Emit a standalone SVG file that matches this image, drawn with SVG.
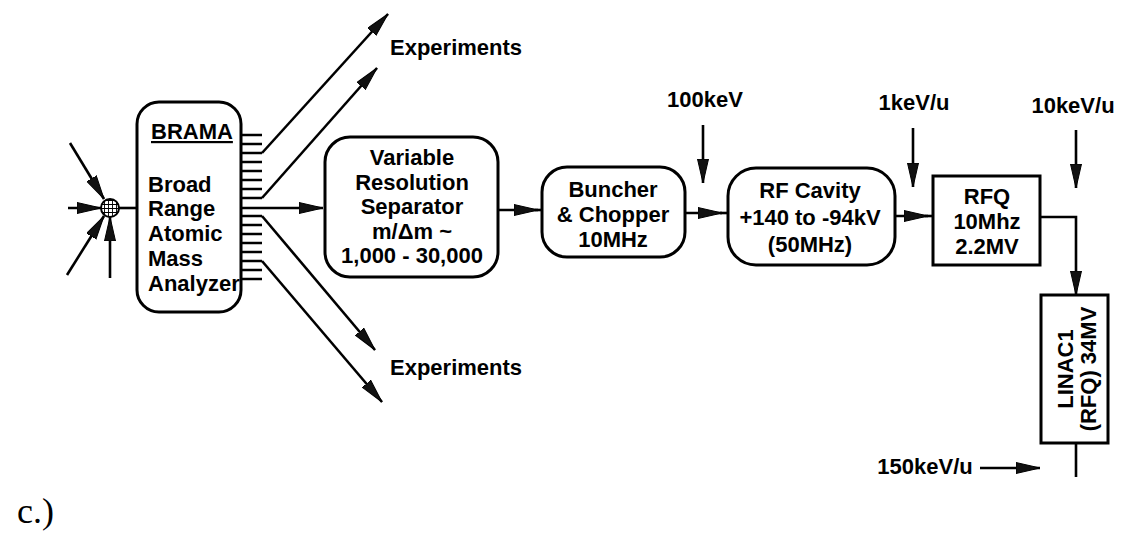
<svg xmlns="http://www.w3.org/2000/svg" width="1121" height="533" viewBox="0 0 1121 533">
<defs>
<style>
.box{fill:#fff;stroke:#000;stroke-width:3}
.ln{fill:none;stroke:#000;stroke-width:2.6}
.tk{fill:none;stroke:#000;stroke-width:2.5}
.t{font-family:"Liberation Sans",Arial,sans-serif;font-weight:bold;font-size:22px;fill:#000;text-anchor:middle}
.tl{font-family:"Liberation Sans",Arial,sans-serif;font-weight:bold;font-size:22px;fill:#000}
.ex{font-family:"Liberation Sans",Arial,sans-serif;font-weight:bold;font-size:22px;fill:#000}
.arr{marker-end:url(#ah)}
</style>
<marker id="ah" markerUnits="userSpaceOnUse" markerWidth="26" markerHeight="14" refX="24" refY="6" orient="auto">
<path d="M0,0.5 L24,6 L0,11.5 Z" fill="#111" stroke="#000" stroke-width="1"/>
</marker>
<pattern id="hatch" width="4" height="4" patternUnits="userSpaceOnUse">
<rect width="4" height="4" fill="#fff"/>
<path d="M0,0 H4 M0,0 V4" stroke="#000" stroke-width="1.8"/>
</pattern>
</defs>
<rect width="1121" height="533" fill="#fff"/>

<g id="connectors">
<!-- source inputs -->
<line class="ln arr" x1="70" y1="143" x2="104" y2="199"/>
<line class="ln arr" x1="68" y1="208" x2="101" y2="208"/>
<line class="ln arr" x1="67" y1="275" x2="104" y2="216"/>
<line class="ln arr" x1="110" y1="278" x2="110" y2="217"/>
<line class="ln" x1="119" y1="208" x2="137" y2="208"/>
<!-- ticks -->
<path class="tk" d="M241,135H262M241,144H262M241,153H262M241,162H262M241,171H262M241,180H262M241,189H262M241,198H262M241,216H262M241,225H262M241,234H262M241,243H262M241,252H262M241,261H262M241,270H262M241,279H262"/>
<!-- main -->
<line class="ln arr" x1="241" y1="208" x2="323" y2="208"/>
<!-- experiments -->
<line class="ln arr" x1="262" y1="153" x2="388" y2="14"/>
<line class="ln arr" x1="262" y1="198" x2="377" y2="68"/>
<line class="ln arr" x1="262" y1="216" x2="375" y2="350"/>
<line class="ln arr" x1="262" y1="261" x2="382" y2="402"/>
<!-- chain -->
<line class="ln arr" x1="499" y1="210" x2="538" y2="210"/>
<line class="ln" x1="535" y1="210" x2="542" y2="210"/>
<line class="ln arr" x1="685" y1="213" x2="722" y2="213"/>
<line class="ln" x1="720" y1="213" x2="728" y2="213"/>
<line class="ln arr" x1="895" y1="216" x2="928" y2="216"/>
<line class="ln" x1="925" y1="216" x2="933" y2="216"/>
<path class="ln arr" d="M1040,217 H1076 V295"/>
<line class="ln" x1="1076" y1="443" x2="1076" y2="477"/>
<!-- energy markers -->
<line class="ln arr" x1="703" y1="125" x2="703" y2="183"/>
<line class="ln arr" x1="913" y1="128" x2="913" y2="187"/>
<line class="ln arr" x1="1076" y1="130" x2="1076" y2="188"/>
<line class="ln arr" x1="980" y1="468" x2="1040" y2="468"/>
</g>

<g id="source">
<circle cx="110" cy="208" r="9" fill="url(#hatch)" stroke="#000" stroke-width="2"/>
</g>

<g id="brama">
<rect class="box" x="137" y="102" width="104" height="210" rx="22"/>
<text class="tl" x="151" y="139" text-decoration="underline">BRAMA</text>
<text class="tl" x="148" y="192">Broad</text>
<text class="tl" x="148" y="216">Range</text>
<text class="tl" x="148" y="241">Atomic</text>
<text class="tl" x="148" y="266">Mass</text>
<text class="tl" x="148" y="291">Analyzer</text>
</g>

<g id="exp-top"><text class="ex" x="390" y="55">Experiments</text></g>
<g id="exp-bottom"><text class="ex" x="390" y="375">Experiments</text></g>

<g id="separator">
<rect class="box" x="325" y="137" width="173" height="140" rx="25"/>
<text class="t" x="412" y="165">Variable</text>
<text class="t" x="412" y="190">Resolution</text>
<text class="t" x="412" y="214">Separator</text>
<text class="t" x="412" y="239">m/Δm ~</text>
<text class="t" x="412" y="263">1,000 - 30,000</text>
</g>

<g id="buncher">
<rect class="box" x="542" y="167" width="143" height="90" rx="25"/>
<text class="t" x="613" y="197">Buncher</text>
<text class="t" x="613" y="222">&amp; Chopper</text>
<text class="t" x="613" y="247">10MHz</text>
</g>

<g id="rfcavity">
<rect class="box" x="728" y="168" width="167" height="97" rx="28"/>
<text class="t" x="810" y="198">RF Cavity</text>
<text class="t" x="810" y="225">+140 to -94kV</text>
<text class="t" x="810" y="252">(50MHz)</text>
</g>

<g id="rfq">
<rect class="box" x="933" y="176" width="107" height="89"/>
<text class="t" x="987" y="204">RFQ</text>
<text class="t" x="987" y="229">10Mhz</text>
<text class="t" x="987" y="254">2.2MV</text>
</g>

<g id="linac">
<rect class="box" x="1041" y="295" width="67" height="148"/>
<text class="t" transform="translate(1073,369) rotate(-90)">LINAC1</text>
<text class="t" transform="translate(1096,369) rotate(-90)">(RFQ) 34MV</text>
</g>

<g id="labels">
<text class="t" x="705" y="107">100keV</text>
<text class="t" x="914" y="110">1keV/u</text>
<text class="t" x="1073" y="113">10keV/u</text>
<text class="t" x="925" y="474">150keV/u</text>
<text x="17" y="523" font-family="'Liberation Serif','Times New Roman',serif" font-size="36" fill="#000">c.)</text>
</g>
</svg>
